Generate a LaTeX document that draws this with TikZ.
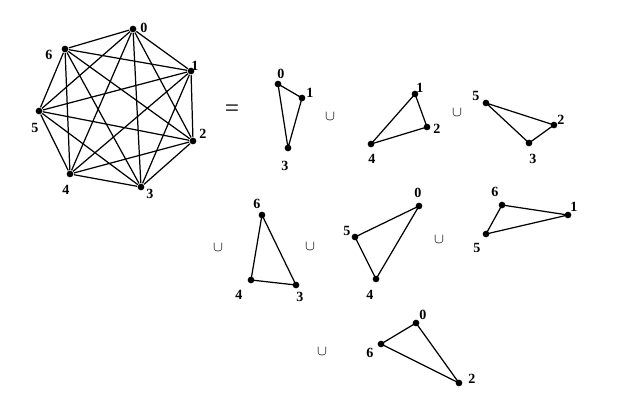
\documentclass[tikz,border=0pt]{standalone}
\usepackage{fontspec}
\setmainfont{Liberation Serif}
\begin{document}
\begin{tikzpicture}[x=0.02cm,y=-0.02cm,line width=0.7pt,
    pt/.style={circle,fill,inner sep=0pt,minimum size=3.8pt},
    lbl/.style={font=\bfseries\fontsize{8}{9}\selectfont,inner sep=0pt},
    cupsym/.style={font=\footnotesize,inner sep=0pt}]
    \useasboundingbox (0,0) rectangle (638,406);

    % vollstaendiger Graph K7
    \foreach \n/\x/\y/\lx/\ly in {0/133/29/144/28, 1/191/71/195/66, 2/193/141/203/134,
        3/141/187/150/194, 4/70/174/66/190, 5/39/111/35/128, 6/65/49/49/55} {
        \node[pt] (h\n) at (\x,\y) {};
        \node[lbl] (hl\n) at (\lx,\ly) {\n};
    }
    \foreach \i in {0,...,6} {
        \foreach \j in {0,...,6} {
            \ifnum\i<\j \draw (h\i) -- (h\j); \fi
        }
    }

    \node[font=\Large,inner sep=0pt] (eq) at (232,111) {=};

    % Dreiecke (Zerlegung)
    \foreach \t/\a/\xa/\ya/\lxa/\lya/\b/\xb/\yb/\lxb/\lyb/\c/\xc/\yc/\lxc/\lyc in {
        A/0/278/84/281/74/1/302/98/310/93/3/288/148/285/166,
        B/1/415/94/420/88/2/427/127/437/129/4/371/144/372/159,
        C/5/486/103/476/96/2/554/125/561/120/3/529/143/533/159,
        D/6/262/215/257/204/4/251/280/239/295/3/296/285/300/297,
        E/0/419/206/418/193/5/355/237/347/231/4/376/279/370/295,
        F/6/502/205/495/192/1/568/215/574/207/5/486/234/477/248,
        G/0/416/323/423/315/6/381/344/370/353/2/459/383/472/379} {
        \node[pt] (\t\a) at (\xa,\ya) {};
        \node[pt] (\t\b) at (\xb,\yb) {};
        \node[pt] (\t\c) at (\xc,\yc) {};
        \node[lbl] at (\lxa,\lya) {\a};
        \node[lbl] at (\lxb,\lyb) {\b};
        \node[lbl] at (\lxc,\lyc) {\c};
        \draw (\t\a.center) -- (\t\b.center) -- (\t\c.center) -- cycle;
    }

    % Vereinigungszeichen
    \foreach \k/\x/\y in {1/330/117, 2/457/113, 3/218/248, 4/310/247, 5/439/240, 6/322/352} {
        \node[cupsym] (u\k) at (\x,\y) {$\cup$};
    }
\end{tikzpicture}
\end{document}
